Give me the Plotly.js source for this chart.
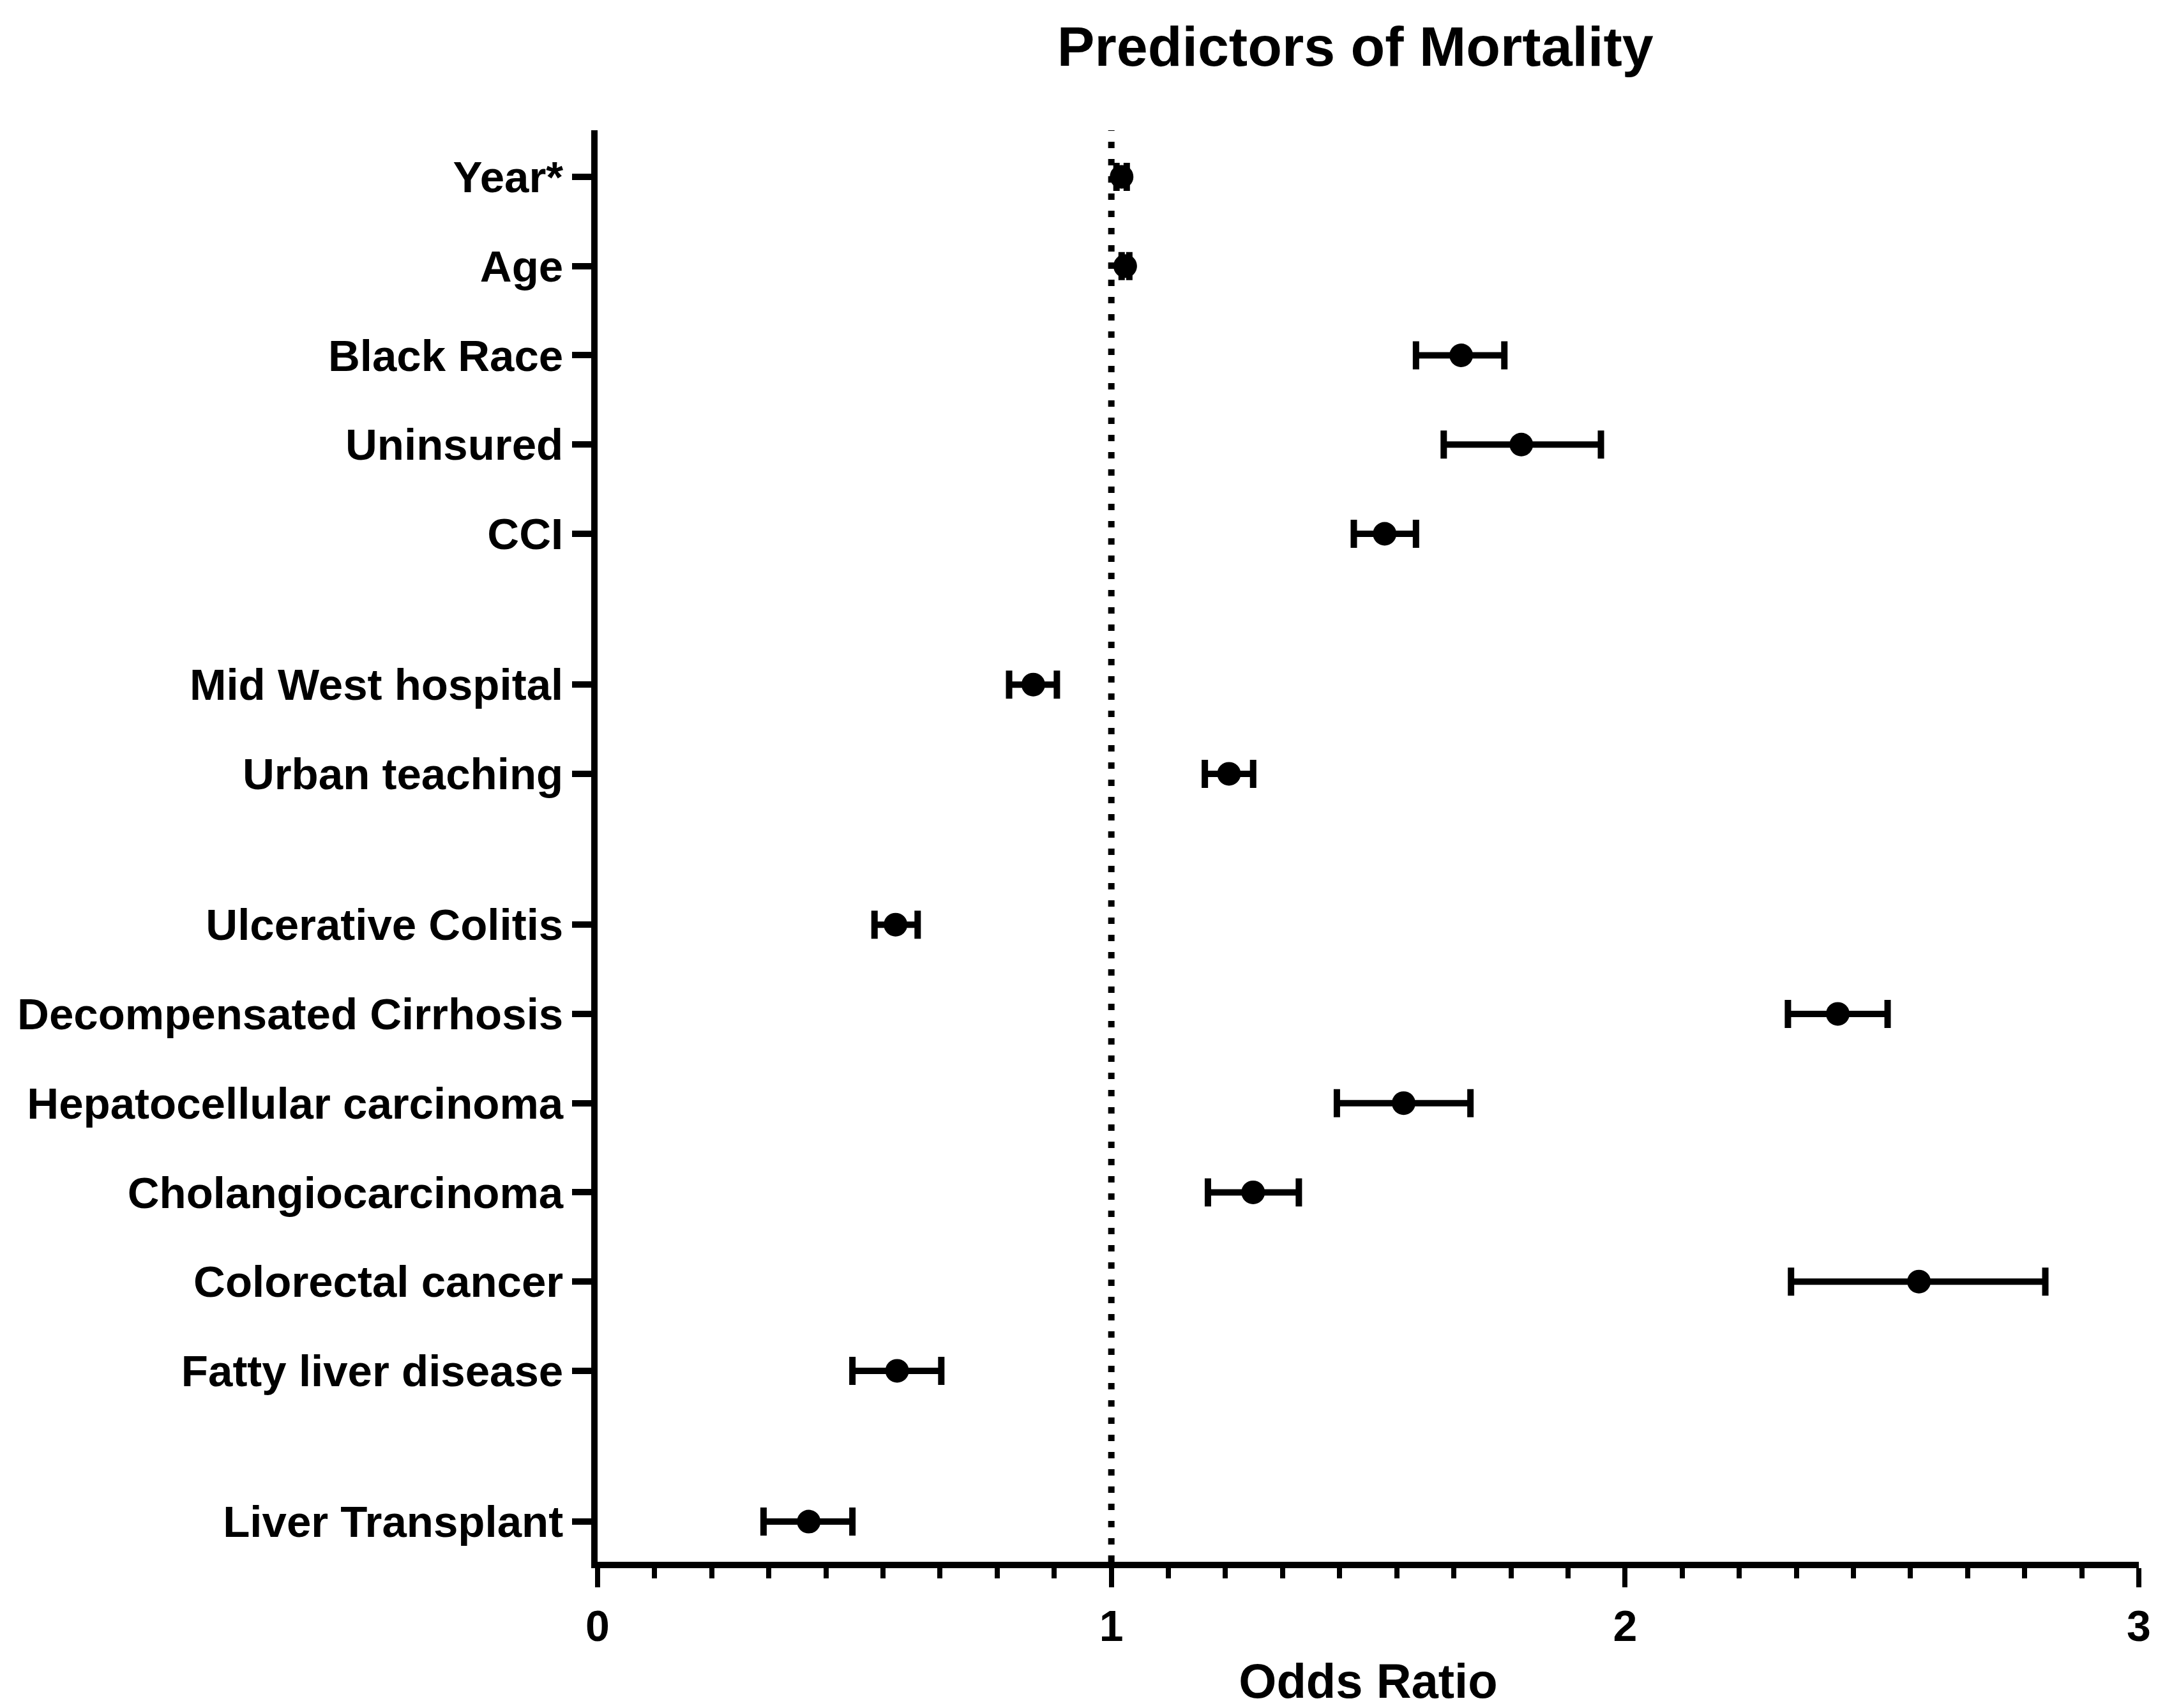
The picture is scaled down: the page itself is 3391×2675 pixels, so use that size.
<!DOCTYPE html>
<html>
<head>
<meta charset="utf-8">
<script src="https://cdn.plot.ly/plotly-3.0.1.min.js"></script>
<style>html,body{margin:0;padding:0;background:#fff;}#chart{width:3391px;height:2675px;}</style>
</head>
<body>
<div id="chart"></div>
<script>
// ---- data ----
const labels = ["Year*", "Age", "Black Race", "Uninsured", "CCI",
  "Mid West hospital", "Urban teaching",
  "Ulcerative Colitis", "Decompensated Cirrhosis", "Hepatocellular carcinoma",
  "Cholangiocarcinoma", "Colorectal cancer", "Fatty liver disease",
  "Liver Transplant"];
const oddsRatio = [1.02, 1.027, 1.681, 1.798, 1.532, 0.848, 1.229, 0.580, 2.414, 1.569, 1.276, 2.572, 0.583, 0.411];
const ciLow     = [1.01, 1.02, 1.593, 1.647, 1.472, 0.801, 1.182, 0.539, 2.317, 1.439, 1.188, 2.323, 0.496, 0.323];
const ciHigh    = [1.03, 1.035, 1.765, 1.953, 1.593, 0.894, 1.276, 0.623, 2.511, 1.699, 1.365, 2.818, 0.669, 0.496];
const groupOf   = [0, 0, 0, 0, 0, 1, 1, 2, 2, 2, 2, 2, 2, 3];
const xTicks    = [0, 1, 2, 3];

// ---- layout helpers ----
const GROUP_GAP = 0.69;
const rowPos = labels.map((_, i) => i + groupOf[i] * GROUP_GAP);
const maxPos = Math.max(...rowPos);
const FONT = "Liberation Sans, Arial, Helvetica, sans-serif";

const trace = {
  type: "scatter",
  mode: "markers",
  x: oddsRatio,
  y: rowPos,
  marker: {color: "#000", size: 37, symbol: "circle"},
  error_x: {
    type: "data",
    symmetric: false,
    array: oddsRatio.map((v, i) => ciHigh[i] - v),
    arrayminus: oddsRatio.map((v, i) => v - ciLow[i]),
    color: "#000",
    thickness: 10,
    width: 22
  },
  cliponaxis: false,
  hoverinfo: "x+y"
};

const layout = {
  width: 3391,
  height: 2675,
  paper_bgcolor: "#fff",
  plot_bgcolor: "#fff",
  showlegend: false,
  margin: {l: 936, r: 41, t: 204, b: 229},
  font: {family: FONT, color: "#000", size: 69, weight: "bold"},
  title: {
    text: "Predictors of Mortality",
    font: {family: FONT, size: 88, color: "#000", weight: "bold"},
    xref: "container", yref: "container",
    x: 0.626, xanchor: "center",
    y: 1 - 72 / 2675, yanchor: "middle"
  },
  xaxis: {
    range: [0, 3],
    tickmode: "array",
    tickvals: xTicks,
    ticktext: xTicks.map(String),
    ticks: "outside",
    ticklen: 30,
    tickwidth: 8,
    tickcolor: "#000",
    ticklabelstandoff: 2,
    showline: true,
    linewidth: 10,
    linecolor: "#000",
    showgrid: false,
    zeroline: false,
    tickfont: {family: FONT, size: 68, color: "#000", weight: "bold"},
    minor: {dtick: 1 / 9, tick0: 0, ticks: "outside", ticklen: 16, tickwidth: 8, tickcolor: "#000", showgrid: false},
    title: {text: "Odds Ratio", font: {family: FONT, size: 76, color: "#000", weight: "bold"}, standoff: 100},
    automargin: false,
    fixedrange: true
  },
  yaxis: {
    range: [maxPos + 0.45, -0.522],
    tickmode: "array",
    tickvals: rowPos,
    ticktext: labels,
    ticks: "outside",
    ticklen: 30,
    tickwidth: 10,
    tickcolor: "#000",
    showline: true,
    linewidth: 10,
    linecolor: "#000",
    showgrid: false,
    zeroline: false,
    tickfont: {family: FONT, size: 69, color: "#000", weight: "bold"},
    automargin: false,
    fixedrange: true
  },
  shapes: [{
    type: "line",
    xref: "x", yref: "paper",
    x0: 1, x1: 1, y0: 0, y1: 1,
    line: {color: "#000", width: 10, dash: "10px,17px"},
    layer: "below"
  }]
};

Plotly.newPlot("chart", [trace], layout, {displayModeBar: false, staticPlot: true});
</script>
</body>
</html>
